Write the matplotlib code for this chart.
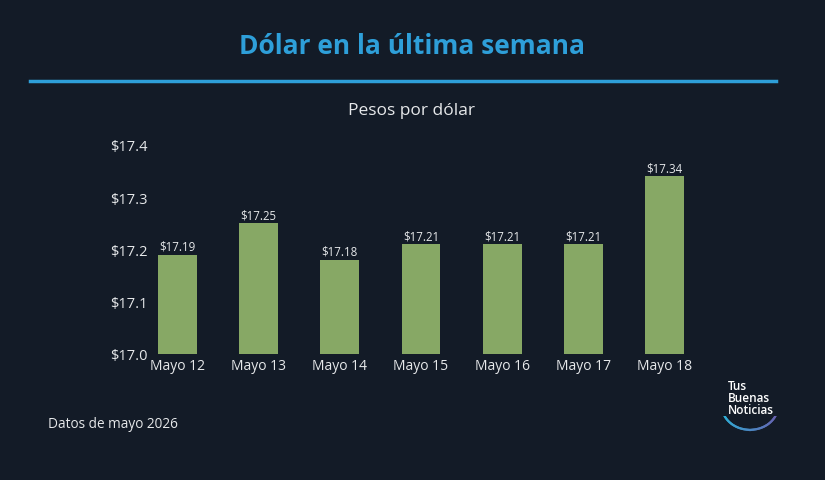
import matplotlib
matplotlib.use("Agg")
import matplotlib.pyplot as plt
import numpy as np

categories = ["Mayo 12", "Mayo 13", "Mayo 14", "Mayo 15", "Mayo 16", "Mayo 17", "Mayo 18"]
values = [17.19, 17.25, 17.18, 17.21, 17.21, 17.21, 17.34]
yticks = [17.0, 17.1, 17.2, 17.3, 17.4]
ytick_labels = ["$17.0", "$17.1", "$17.2", "$17.3", "$17.4"]

BG = "#131b27"
BAR = "#87a865"
BLUE = "#2e9fd9"
TXT = "#e6e8ea"

plt.rcParams['font.family'] = ['Open Sans', 'DejaVu Sans']

W, H = 825, 481
fig = plt.figure(figsize=(W/100, H/100), dpi=100, facecolor=BG)

ax = fig.add_axes([137/W, (H-355)/H, (705-137)/W, (355-146)/H])
ax.set_facecolor(BG)
x = np.arange(len(categories))
ax.bar(x, values, width=0.48, color=BAR, zorder=2)
ax.set_xlim(-0.5, len(categories)-0.5)
ax.set_ylim(17.0, 17.4)
ax.set_yticks(yticks)
ax.set_yticklabels(ytick_labels)
ax.set_xticks(x)
ax.set_xticklabels(categories)
ax.tick_params(axis='y', length=0, colors=TXT, labelsize=10.5, pad=-8)
ax.tick_params(axis='x', length=0, colors=TXT, labelsize=10, pad=3)
for s in ax.spines.values():
    s.set_visible(False)
for xi, v in zip(x, values):
    ax.text(xi, v + 0.004, f"${v:.2f}", ha='center', va='bottom', color=TXT, fontsize=8.3)

fig.text(412/W, 1 - 47/H, "Dólar en la última semana", ha='center', va='center',
         color=BLUE, fontsize=19, fontweight='bold')
fig.add_artist(plt.Line2D([30/W, 776/W], [1 - 82/H, 1 - 82/H], color=BLUE, lw=2.5))
fig.text(412/W, 1 - 111/H, "Pesos por dólar", ha='center', va='center', color=TXT, fontsize=12.5)
fig.text(48/W, 1 - 425/H, "Datos de mayo 2026", ha='left', va='center', color=TXT, fontsize=9.8)

# logo
fig.text(728/W, 1 - 399/H, "Tus\nBuenas\nNoticias", ha='left', va='center', color='white',
         fontsize=8.5, fontweight='semibold', linespacing=0.9)
lax = fig.add_axes([718/W, (H-441)/H, 64/W, 24/H])
lax.set_xlim(0, 64); lax.set_ylim(0, 24)
lax.axis('off')
t = np.linspace(np.pi*1.1, np.pi*1.9, 50)
cx, cy, r = 32, 34, 28
px = cx + r*np.cos(t); py = cy + 0.85*r*np.sin(t)
cols = plt.matplotlib.colors.LinearSegmentedColormap.from_list("g", ["#2bb3d8", "#6a5fb0"])
for i in range(len(t)-1):
    lax.plot(px[i:i+2], py[i:i+2], color=cols(i/(len(t)-2)), lw=1.6, solid_capstyle='round')

fig.savefig("out.png", dpi=100, facecolor=BG)
